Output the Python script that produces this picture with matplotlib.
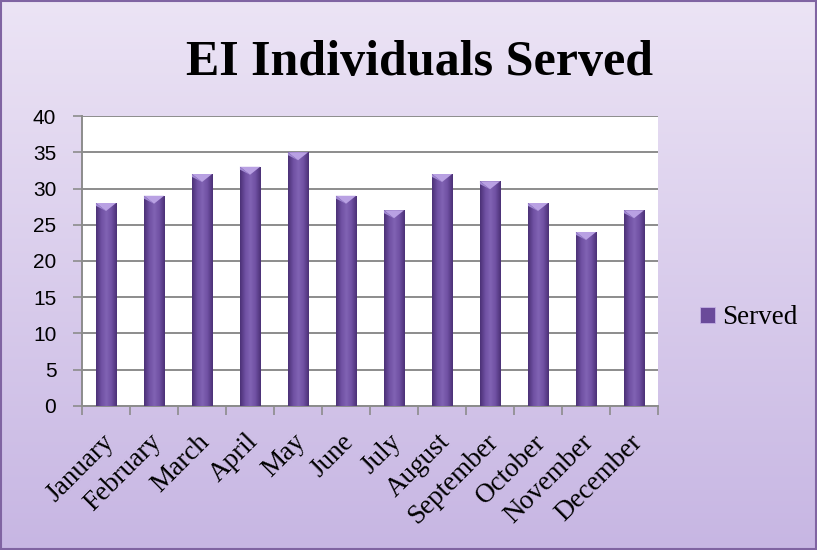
import numpy as np
import matplotlib.pyplot as plt
from matplotlib.colors import LinearSegmentedColormap
from matplotlib.transforms import ScaledTranslation

months = ['January', 'February', 'March', 'April', 'May', 'June', 'July',
          'August', 'September', 'October', 'November', 'December']
served = [28, 29, 32, 33, 35, 29, 27, 32, 31, 28, 24, 27]

serif = ['Liberation Serif', 'DejaVu Serif']
sans = ['Liberation Sans', 'DejaVu Sans']

fig = plt.figure(figsize=(8.17, 5.5), dpi=100)

# lavender gradient behind everything
bg = fig.add_axes([0, 0, 1, 1], zorder=-10)
grad = np.linspace(0, 1, 256).reshape(-1, 1)
bg_cmap = LinearSegmentedColormap.from_list('bg', ['#ece4f5', '#c7b6e3'])
bg.imshow(grad, aspect='auto', cmap=bg_cmap, extent=[0, 1, 0, 1], origin='upper')
bg.set_xlim(0, 1)
bg.set_ylim(0, 1)
bg.axis('off')
fig.add_artist(plt.Rectangle((0.001, 0.001), 0.998, 0.997, transform=fig.transFigure,
                             fill=False, edgecolor='#8064a2', linewidth=1.5))

ax = fig.add_axes([0.1004, 0.262, 0.7050, 0.527])
ax.set_facecolor('white')

x = np.arange(len(months))
bars = ax.bar(x, served, width=0.42, color='#6a4a9a', edgecolor='#c3afe6',
              linewidth=0.6, zorder=3, label='Served')

# rounded-looking shading across each bar
bar_cmap = LinearSegmentedColormap.from_list(
    'bar', ['#4b3176', '#6f50a2', '#8163b4', '#6f50a2', '#4b3176'])
hgrad = np.linspace(0, 1, 64).reshape(1, -1)
for b in bars:
    x0, w, h = b.get_x(), b.get_width(), b.get_height()
    im = ax.imshow(hgrad, aspect='auto', cmap=bar_cmap,
                   extent=[x0, x0 + w, 0, h], zorder=3.5)
    im.set_clip_path(b)
    # bevelled cap on top of each bar
    ax.fill([x0, x0 + w, x0 + w / 2], [h, h, h - 1.1],
            color='#b9a1e3', zorder=4, linewidth=0)
    ax.fill([x0, x0 + w / 2, x0], [h, h - 1.1, h - 0.4],
            color='#a088d2', zorder=4, linewidth=0)

ax.set_xlim(-0.5, len(months) - 0.5)
ax.set_ylim(0, 40)
ax.set_yticks(np.arange(0, 41, 5))
ax.grid(axis='y', color='#8c8c8c', linewidth=1.4, zorder=0)
ax.set_axisbelow(True)

ax.set_xticks(x)
ax.set_xticklabels(months, rotation=45, ha='right', va='top',
                   rotation_mode='anchor', family=serif, fontsize=19.5)
ax.tick_params(axis='x', length=0, pad=9)
# nudge the slanted month names down and to the left
shift = ScaledTranslation(-5 / 100, -11 / 100, fig.dpi_scale_trans)
for lab in ax.get_xticklabels():
    lab.set_transform(lab.get_transform() + shift)
ax.set_xticks(np.arange(-0.5, len(months), 1), minor=True)
ax.tick_params(axis='x', which='minor', length=6.5, color='#8c8c8c', width=1.2)
ax.tick_params(axis='y', length=6.5, color='#8c8c8c', width=1.2, labelsize=15, pad=12)
for lab in ax.get_yticklabels():
    lab.set_family(sans)

for side in ['top', 'right']:
    ax.spines[side].set_visible(False)
for side in ['left', 'bottom']:
    ax.spines[side].set_color('#8c8c8c')
    ax.spines[side].set_linewidth(1.4)

fig.text(0.513, 0.864, 'EI Individuals Served', ha='center', va='baseline',
         family=serif, fontsize=36, fontweight='bold')

fig.legend(handles=[bars], labels=['Served'], loc='center left',
           bbox_to_anchor=(700 / 817, 1 - 318 / 550), frameon=False,
           borderaxespad=0, borderpad=0,
           prop={'family': serif, 'size': 19.5}, handlelength=0.55,
           handleheight=0.55, handletextpad=0.25)

fig.savefig('out.png', dpi=100)
